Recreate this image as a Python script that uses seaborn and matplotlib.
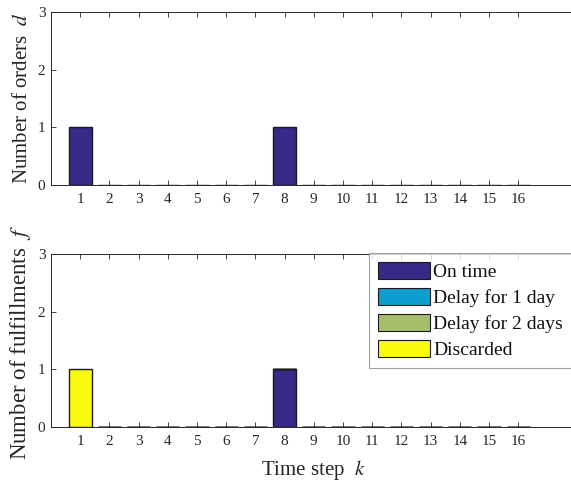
import numpy as np
import pandas as pd
import matplotlib
matplotlib.use("Agg")
import matplotlib.pyplot as plt
import seaborn as sns

# ---- data ----
steps = list(range(1, 17))
orders = [1, 0, 0, 0, 0, 0, 0, 1, 0, 0, 0, 0, 0, 0, 0, 0]
on_time = [0, 0, 0, 0, 0, 0, 0, 1, 0, 0, 0, 0, 0, 0, 0, 0]
delay_1 = [0] * 16
delay_2 = [0] * 16
discarded = [1, 0, 0, 0, 0, 0, 0, 0, 0, 0, 0, 0, 0, 0, 0, 0]
categories = ["On time", "Delay for 1 day", "Delay for 2 days", "Discarded"]
colors = ["#352a87", "#0f9cd0", "#a5bd6b", "#f9fb0e"]
tick_labels = [str(s) for s in steps]

sns.set_theme(style="white")
plt.rcParams["font.family"] = ["Liberation Serif", "DejaVu Serif"]
plt.rcParams["mathtext.fontset"] = "stix"

W, H = 571, 482
fig = plt.figure(figsize=(W / 100, H / 100), dpi=100)
left = 51 / W
width = 18 * 29.2 / W
hgt = 173 / H
ax1 = fig.add_axes([left, 1 - 185 / H, width, hgt])
ax2 = fig.add_axes([left, 1 - 427 / H, width, hgt])

axcol = "#262626"
edge = "#1a1a1a"

df_top = pd.DataFrame({"k": steps, "v": orders})
sns.barplot(data=df_top, x="k", y="v", native_scale=True, width=0.8,
            color=colors[0], edgecolor=edge, linewidth=1.0, saturation=1,
            ax=ax1, errorbar=None)

series = [on_time, delay_1, delay_2, discarded]
bottom = np.zeros(16)
handles = []
for name, vals, c in zip(categories, series, colors):
    d = pd.DataFrame({"k": steps, "v": vals})
    sns.barplot(data=d, x="k", y="v", native_scale=True, width=0.8,
                color=c, edgecolor=edge, linewidth=1.0, saturation=1,
                bottom=bottom.copy(), ax=ax2, errorbar=None)
    bottom = bottom + np.array(vals)
    handles.append(matplotlib.patches.Patch(facecolor=c, edgecolor=edge,
                                            linewidth=0.8, label=name))

for ax in (ax1, ax2):
    ax.set_xlim(0, 18)
    ax.set_ylim(0, 3)
    ax.set_xticks(steps)
    ax.set_xticklabels(tick_labels)
    ax.set_yticks([0, 1, 2, 3])
    ax.tick_params(axis="both", direction="in", length=3.5, width=0.6,
                   colors=axcol, labelsize=11, top=True, right=True,
                   bottom=True, left=True)
    ax.tick_params(axis="x", pad=6)
    ax.tick_params(axis="y", pad=4)
    for sp in ax.spines.values():
        sp.set_visible(True)
        sp.set_color(axcol)
        sp.set_linewidth(0.7)
    ax.grid(False)

ax1.set_xlabel("")
ax1.set_ylabel(r"Number of orders  $d$", fontsize=15, color=axcol)
ax1.yaxis.set_label_coords(-0.036, 0.5)
ax2.set_ylabel(r"Number of fulfillments  $f$", fontsize=16.5, color=axcol)
ax2.yaxis.set_label_coords(-0.034, 0.49)
ax2.set_xlabel(r"Time step  $k$", fontsize=15, color=axcol, labelpad=7)

leg = ax2.legend(handles=handles, loc="upper left",
                 bbox_to_anchor=(369 / W, 1 - 253 / H),
                 bbox_transform=fig.transFigure, borderaxespad=0,
                 fontsize=14, frameon=True, fancybox=False,
                 handlelength=2.7, handleheight=1.0, handletextpad=0.15,
                 labelspacing=0.34, borderpad=0.45)
leg.get_frame().set_edgecolor("#888888")
leg.get_frame().set_linewidth(0.8)
for t in leg.get_texts():
    t.set_color("#111111")

fig.savefig("out.png", dpi=100, facecolor="white")
